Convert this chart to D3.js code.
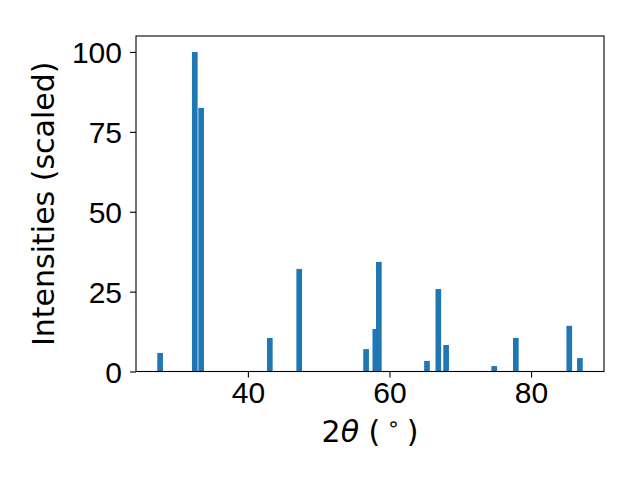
<!DOCTYPE html>
<html>
<head>
<meta charset="utf-8">
<script src="https://cdn.jsdelivr.net/npm/d3@7"></script>
<style>
  body { margin: 0; background: #fff; }
  svg { font-family: "DejaVu Sans", sans-serif; }
</style>
</head>
<body>
<div id="chart"></div>
<script>
// peak positions (2theta, degrees) and scaled intensities
var positions = [27.6, 32.5, 33.4, 43.1, 47.25, 56.7, 58.0, 58.5, 65.3, 66.9, 68.0, 74.8, 77.85, 85.4, 86.9];
var intensities = [5.8, 100, 82.5, 10.5, 32.1, 7.0, 13.3, 34.3, 3.3, 25.8, 8.3, 1.7, 10.5, 14.3, 4.2];
var xTicks = [40, 60, 80];
var yTicks = [0, 25, 50, 75, 100];

var data = positions.map(function(p, i) { return {pos: p, val: intensities[i]}; });

var width = 640, height = 480;
var margin = {top: 36, right: 36, bottom: 108.5, left: 136};
var barWidth = 0.8;
var fontSize = "30px";

var svg = d3.select("#chart")
  .append("svg")
  .attr("width", width)
  .attr("height", height);

// 5% padding like matplotlib autoscale
var xmin = d3.min(positions) - barWidth / 2, xmax = d3.max(positions) + barWidth / 2;
var pad = (xmax - xmin) * 0.05;
var x = d3.scaleLinear()
  .domain([xmin - pad, xmax + pad])
  .range([margin.left, width - margin.right]);

var y = d3.scaleLinear()
  .domain([0, 105])
  .range([height - margin.bottom, margin.top]);

// bars
svg.selectAll("rect.bar")
  .data(data)
  .enter()
  .append("rect")
    .attr("class", "bar")
    .attr("x", function(d) { return x(d.pos - barWidth / 2); })
    .attr("y", function(d) { return y(d.val); })
    .attr("width", function(d) { return x(d.pos + barWidth / 2) - x(d.pos - barWidth / 2); })
    .attr("height", function(d) { return y(0) - y(d.val); })
    .style("fill", "#1f77b4");

// x axis
var gx = svg.append("g")
  .attr("transform", "translate(0," + y(0) + ")")
  .call(d3.axisBottom(x).tickValues(xTicks).tickSize(6).tickPadding(4).tickFormat(d3.format("d")));
gx.select(".domain").remove();
gx.selectAll("line").style("stroke", "#000").style("stroke-width", 1.1);
gx.selectAll("text").style("font-size", fontSize).style("fill", "#000").attr("dy", "0.72em");

// y axis
var gy = svg.append("g")
  .attr("transform", "translate(" + margin.left + ",0)")
  .call(d3.axisLeft(y).tickValues(yTicks).tickSize(6).tickPadding(8));
gy.select(".domain").remove();
gy.selectAll("line").style("stroke", "#000").style("stroke-width", 1.1);
gy.selectAll("text").style("font-size", fontSize).style("fill", "#000").attr("dy", "0.36em");

// frame
svg.append("rect")
  .attr("x", margin.left)
  .attr("y", margin.top)
  .attr("width", width - margin.left - margin.right)
  .attr("height", height - margin.top - margin.bottom)
  .style("fill", "none")
  .style("stroke", "#000")
  .style("stroke-width", 1.1);

// x label
var xl = svg.append("text")
  .attr("x", (margin.left + width - margin.right) / 2)
  .attr("y", 441.5)
  .attr("text-anchor", "middle")
  .style("font-size", fontSize);
xl.append("tspan").text("2");
xl.append("tspan").style("font-style", "italic").text("θ");
xl.append("tspan").text(" (");
xl.append("tspan").attr("dy", -11).style("font-size", "21px").text(" ∘ ");
xl.append("tspan").attr("dy", 11).text(")");

// y label
svg.append("text")
  .attr("transform", "translate(53.5," + (margin.top + height - margin.bottom) / 2 + ") rotate(-90)")
  .attr("text-anchor", "middle")
  .style("font-size", fontSize)
  .text("Intensities (scaled)");
</script>
</body>
</html>
